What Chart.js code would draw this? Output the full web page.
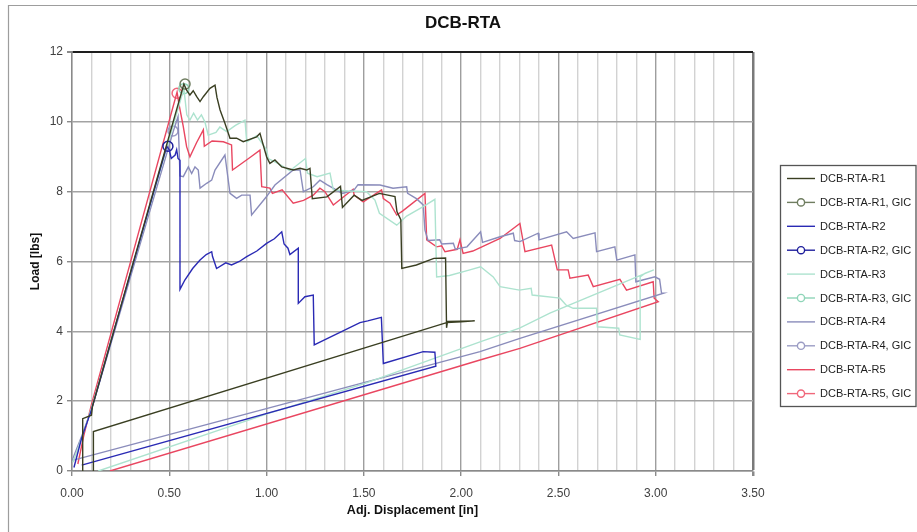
<!DOCTYPE html>
<html>
<head>
<meta charset="utf-8">
<script src="https://cdn.jsdelivr.net/npm/chart.js@4.4.1/dist/chart.umd.min.js"></script>
<style>
  html, body { margin: 0; padding: 0; background: #fff; overflow: hidden; }
  #wrap { width: 917px; height: 532px; position: relative; }
</style>
</head>
<body>
<div id="wrap"><canvas id="c" width="917" height="532"></canvas></div>
<script>
// Specimen names
const specimens = ['DCB-RTA-R1', 'DCB-RTA-R2', 'DCB-RTA-R3', 'DCB-RTA-R4', 'DCB-RTA-R5'];
const chartTitle = 'DCB-RTA';

// Load-displacement traces (displacement in inches, load in lbs)
const r1Disp = [0.055,0.055,0.100,0.105,0.575,0.589,0.606,0.623,0.641,0.658,0.675,0.709,0.735,0.745,0.761,0.786,0.812,0.846,0.880,0.949,0.966,1.000,1.017,1.043,1.078,1.137,1.172,1.206,1.223,1.235,1.310,1.380,1.390,1.450,1.490,1.580,1.660,1.670,1.690,1.695,1.770,1.860,1.920,1.925,1.930,2.070,2.000,1.925,0.110,0.110];
const r1Load = [0.00,1.50,1.60,1.85,11.08,10.91,10.77,10.89,10.72,10.58,10.72,10.96,11.05,10.70,10.34,9.96,9.53,9.53,9.43,9.57,9.67,9.00,8.81,8.91,8.71,8.62,8.67,8.62,8.67,7.80,7.85,8.15,7.55,7.90,7.75,7.95,7.86,7.43,7.20,5.80,5.90,6.09,6.10,4.10,4.28,4.30,4.27,4.25,1.13,0.00];

const r2Disp = [0.010,0.050,0.100,0.487,0.500,0.510,0.530,0.538,0.545,0.555,0.555,0.580,0.620,0.658,0.690,0.718,0.722,0.743,0.790,0.820,0.860,0.898,0.950,1.000,1.040,1.078,1.090,1.110,1.120,1.163,1.163,1.197,1.240,1.245,1.480,1.520,1.590,1.600,1.805,1.865,1.870,0.050];
const r2Load = [0.10,0.95,1.75,9.30,9.20,8.95,9.05,9.20,8.95,8.90,5.20,5.47,5.80,6.04,6.20,6.28,6.15,5.80,5.96,5.90,6.00,6.14,6.30,6.52,6.65,6.85,6.50,6.38,6.20,6.38,4.80,4.99,5.04,3.61,4.25,4.30,4.40,3.08,3.42,3.40,3.00,0.17];

const r3Disp = [0.005,0.050,0.100,0.575,0.590,0.606,0.625,0.645,0.665,0.683,0.700,0.740,0.760,0.795,0.840,0.889,0.898,0.950,1.000,1.009,1.060,1.120,1.200,1.210,1.260,1.326,1.343,1.420,1.514,1.557,1.580,1.669,1.720,1.805,1.865,1.874,1.940,2.045,2.100,2.165,2.200,2.300,2.360,2.365,2.508,2.540,2.576,2.696,2.700,2.810,2.815,2.920,2.920,2.944,2.990,2.456,2.300,2.097,1.506,1.010,0.135];
const r3Load = [0.25,0.95,1.80,10.95,10.20,10.05,10.25,10.05,10.20,10.00,9.62,9.70,9.85,9.72,9.90,10.05,9.43,9.60,9.20,8.95,8.80,8.60,8.95,8.53,8.43,8.53,8.05,8.02,8.00,7.76,7.38,7.04,7.30,7.57,7.78,5.56,5.60,5.76,5.85,5.56,5.28,5.18,5.23,5.04,4.95,4.75,4.66,4.66,4.13,4.09,3.90,3.77,5.56,5.66,5.76,4.52,4.09,3.70,2.51,1.65,0.00];

const r4Disp = [0.000,0.050,0.100,0.520,0.545,0.555,0.572,0.598,0.615,0.632,0.649,0.658,0.692,0.718,0.735,0.786,0.812,0.846,0.872,0.915,0.923,1.000,1.043,1.137,1.172,1.189,1.240,1.274,1.310,1.390,1.450,1.470,1.583,1.650,1.720,1.725,1.770,1.805,1.814,1.830,1.890,1.900,1.960,1.970,2.030,2.100,2.110,2.200,2.268,2.275,2.302,2.396,2.400,2.542,2.576,2.688,2.696,2.790,2.800,2.893,2.898,2.996,3.020,3.030,3.040,2.302,2.097,0.007];
const r4Load = [0.30,1.00,1.75,9.72,10.15,8.45,8.43,8.71,8.52,8.71,8.62,8.10,8.24,8.33,8.62,9.05,7.95,7.81,7.90,7.90,7.33,7.86,8.19,8.62,8.62,8.00,8.14,8.33,8.20,7.95,8.05,8.20,8.19,8.10,8.14,7.95,7.80,7.62,6.90,6.60,6.62,6.50,6.52,6.35,6.42,6.85,6.55,6.71,6.81,6.60,6.57,6.81,6.62,6.85,6.66,6.82,6.28,6.42,6.04,6.19,5.42,5.56,5.49,5.09,5.09,3.80,3.42,0.31];

const r5Disp = [0.030,0.060,0.100,0.540,0.550,0.572,0.589,0.606,0.640,0.675,0.680,0.720,0.778,0.820,0.825,0.870,0.920,0.966,0.975,1.017,1.030,1.080,1.137,1.190,1.240,1.274,1.300,1.343,1.445,1.450,1.497,1.591,1.600,1.634,1.669,1.700,1.814,1.823,1.874,1.900,1.917,1.980,1.994,2.010,2.060,2.200,2.302,2.328,2.465,2.494,2.550,2.559,2.653,2.679,2.816,2.850,2.987,2.992,3.013,2.302,2.097,0.195];
const r5Load = [0.20,1.00,1.90,10.85,10.50,9.86,9.29,9.00,9.40,9.77,9.30,9.45,9.43,9.34,8.62,8.80,9.00,9.19,8.14,8.10,7.95,8.05,7.67,7.75,7.90,8.10,8.00,7.62,8.07,7.90,7.71,8.05,7.80,7.67,7.33,7.45,7.95,6.62,6.42,6.45,6.28,6.35,6.62,6.23,6.30,6.66,7.09,6.28,6.47,5.76,5.76,5.52,5.61,5.28,5.49,5.18,5.42,4.95,4.85,3.51,3.18,0.00];

// Critical points used for GIC, one per specimen
const gicDisp = [0.581, 0.493, 0.575, 0.519, 0.540];
const gicLoad = [11.08, 9.30, 10.95, 9.74, 10.82];

// Axis ticks
const xMajorLabels = ['0.00','0.50','1.00','1.50','2.00','2.50','3.00','3.50'];
const yTickLabels = ['0','2','4','6','8','10','12'];

const traceDisp = [r1Disp, r2Disp, r3Disp, r4Disp, r5Disp];
const traceLoad = [r1Load, r2Load, r3Load, r4Load, r5Load];
const lineColors = ['#3a3f22', '#2a2ab4', '#ade3cf', '#8a8cbb', '#e94660'];
const gicColors  = ['#6f7d60', '#1f1f9c', '#8fd5b8', '#9b9cc4', '#f0687b'];

const FONT = "'Liberation Sans Narrow', 'Liberation Sans', Arial, sans-serif";

function pts(xs, ys) { return xs.map((x, i) => ({ x: x, y: ys[i] })); }

const datasets = [];
specimens.forEach((name, i) => {
  datasets.push({
    label: name,
    data: pts(traceDisp[i], traceLoad[i]),
    showLine: true,
    borderColor: lineColors[i],
    borderWidth: 1.4,
    pointRadius: 0,
    fill: false,
    tension: 0
  });
  datasets.push({
    label: name + ', GIC',
    data: [{ x: gicDisp[i], y: gicLoad[i] }],
    showLine: true,
    borderColor: gicColors[i],
    backgroundColor: 'rgba(255,255,255,0)',
    borderWidth: 1.4,
    pointRadius: 5,
    pointBorderWidth: 1.5,
    pointBorderColor: gicColors[i],
    pointBackgroundColor: 'rgba(255,255,255,0)',
    isGic: true
  });
});

function isHalf(v) { return Math.abs(v * 2 - Math.round(v * 2)) < 1e-6; }

// Outer frame, centred title and the boxed legend on the right
const framePlugin = {
  id: 'frame',
  beforeDraw(chart) {
    const ctx = chart.ctx;
    ctx.save();
    ctx.fillStyle = '#ffffff';
    ctx.fillRect(0, 0, chart.width, chart.height);
    ctx.strokeStyle = '#9d9d9d';
    ctx.lineWidth = 1.2;
    ctx.beginPath();
    ctx.moveTo(8.5, chart.height);
    ctx.lineTo(8.5, 5.5);
    ctx.lineTo(chart.width, 5.5);
    ctx.stroke();
    ctx.font = 'bold 17px ' + FONT;
    ctx.fillStyle = '#111111';
    ctx.textAlign = 'center';
    ctx.textBaseline = 'middle';
    ctx.fillText(chartTitle, 463, 23);
    ctx.restore();
  },
  afterDraw(chart) {
    const ctx = chart.ctx;
    const boxL = 780.5, boxT = 165.5, boxR = 916, boxB = 406.5;
    ctx.save();
    ctx.fillStyle = '#ffffff';
    ctx.fillRect(boxL, boxT, boxR - boxL, boxB - boxT);
    ctx.strokeStyle = '#555555';
    ctx.lineWidth = 1.3;
    ctx.strokeRect(boxL, boxT, boxR - boxL, boxB - boxT);
    ctx.font = '11px ' + FONT;
    ctx.textBaseline = 'middle';
    ctx.textAlign = 'left';
    chart.data.datasets.forEach((ds, i) => {
      const y = 178.5 + i * 23.9;
      ctx.strokeStyle = ds.borderColor;
      ctx.lineWidth = 1.4;
      ctx.beginPath();
      ctx.moveTo(787, y);
      ctx.lineTo(815, y);
      ctx.stroke();
      if (ds.isGic) {
        ctx.fillStyle = '#ffffff';
        ctx.beginPath();
        ctx.arc(801, y, 3.6, 0, Math.PI * 2);
        ctx.fill();
        ctx.stroke();
      }
      ctx.fillStyle = '#1e1e1e';
      ctx.fillText(ds.label, 820, y + 0.5);
    });
    ctx.restore();
  }
};

new Chart(document.getElementById('c'), {
  type: 'scatter',
  data: { datasets: datasets },
  plugins: [framePlugin],
  options: {
    responsive: false,
    animation: false,
    devicePixelRatio: 1,
    layout: { padding: { left: 0, right: 164, top: 52, bottom: 0 } },
    plugins: {
      legend: { display: false },
      tooltip: { enabled: false },
      title: { display: false }
    },
    scales: {
      x: {
        type: 'linear',
        min: 0,
        max: 3.5,
        afterFit(s) { s.height = 61; },
        afterBuildTicks(s) {
          const t = [];
          for (let k = 0; k <= 35; k++) t.push({ value: k / 10 });
          s.ticks = t;
        },
        ticks: {
          autoSkip: false,
          maxRotation: 0,
          minRotation: 0,
          padding: 10,
          color: '#404040',
          font: { family: FONT, size: 12 },
          callback(v) {
            if (!isHalf(v)) return '';
            return xMajorLabels[Math.round(v * 2)];
          }
        },
        grid: {
          color(c) {
            const v = c.tick ? c.tick.value : 0;
            if (Math.abs(v - 3.5) < 1e-6) return '#7a7a7a';
            return isHalf(v) ? '#9e9e9e' : '#d2d2d2';
          },
          lineWidth(c) {
            const v = c.tick ? c.tick.value : 0;
            if (Math.abs(v - 3.5) < 1e-6) return 2.5;
            return 1.4;
          },
          tickLength: 5,
          tickColor(c) {
            const v = c.tick ? c.tick.value : 0;
            return isHalf(v) ? '#8a8a8a' : 'rgba(0,0,0,0)';
          }
        },
        border: { color: '#8a8a8a', width: 1.4 },
        title: {
          display: true,
          text: 'Adj. Displacement [in]',
          color: '#111111',
          font: { family: FONT, size: 12.5, weight: 'bold', lineHeight: 1.2 },
          padding: { top: 0, bottom: 14 }
        }
      },
      y: {
        type: 'linear',
        min: 0,
        max: 12,
        afterFit(s) { s.width = 72; },
        ticks: {
          stepSize: 2,
          padding: 4,
          color: '#404040',
          font: { family: FONT, size: 12 },
          callback(v) { return yTickLabels[Math.round(v / 2)]; }
        },
        grid: {
          color(c) {
            const v = c.tick ? c.tick.value : 0;
            return v === 12 ? '#1e1e1e' : '#a3a3a3';
          },
          lineWidth(c) {
            const v = c.tick ? c.tick.value : 0;
            return v === 12 ? 2 : 1.4;
          },
          tickLength: 5,
          tickColor: '#8a8a8a'
        },
        border: { color: '#8a8a8a', width: 1.4 },
        title: {
          display: true,
          text: 'Load [lbs]',
          color: '#111111',
          font: { family: FONT, size: 12, weight: 'bold', lineHeight: 1.2 },
          padding: { top: 28, bottom: 0 }
        }
      }
    }
  }
});
</script>
</body>
</html>
